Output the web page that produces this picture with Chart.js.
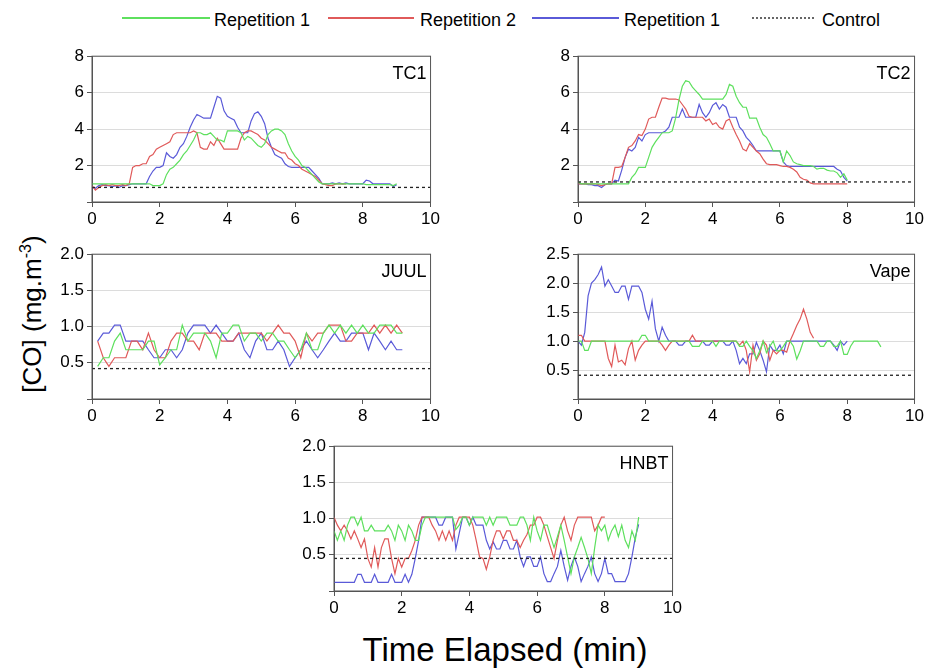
<!DOCTYPE html>
<html>
<head>
<meta charset="utf-8">
<script src="https://cdn.jsdelivr.net/npm/chart.js@4.4.1/dist/chart.umd.min.js"></script>
<style>
  body { margin: 0; width: 927px; height: 671px; position: relative; overflow: hidden; background: #fff;
         font-family: "Liberation Sans", Arial, sans-serif; color: #000; }
  canvas { position: absolute; }
  .leg-line { position: absolute; top: 17px; height: 2px; }
  .leg-dot { position: absolute; top: 17px; height: 0; border-top: 2px dotted #666; }
  .leg-text { position: absolute; top: 9px; font-size: 18px; line-height: 22px; }
  #ytitle { position: absolute; left: 32px; top: 314px; font-size: 26px; white-space: nowrap;
            transform: translate(-50%, -50%) rotate(-90deg); }
  #xtitle { position: absolute; left: 505px; top: 650px; font-size: 33px; white-space: nowrap;
            transform: translate(-50%, -50%); }
</style>
</head>
<body>

<div class="leg-line" style="left:122px;width:88px;background:#5ee05e"></div>
<div class="leg-text" style="left:214px">Repetition 1</div>
<div class="leg-line" style="left:328px;width:86px;background:#e05a5a"></div>
<div class="leg-text" style="left:420px">Repetition 2</div>
<div class="leg-line" style="left:532px;width:87px;background:#5a5ad8"></div>
<div class="leg-text" style="left:624px">Repetition 1</div>
<div class="leg-dot" style="left:752px;width:62px"></div>
<div class="leg-text" style="left:822px">Control</div>

<div id="ytitle">[CO] (mg.m<sup style="font-size:16px">-3</sup>)</div>
<div id="xtitle">Time Elapsed (min)</div>

<canvas id="c0"></canvas>
<canvas id="c1"></canvas>
<canvas id="c2"></canvas>
<canvas id="c3"></canvas>
<canvas id="c4"></canvas>

<script>
// panel names and control levels
const panelNames = ['TC1', 'TC2', 'JUUL', 'Vape', 'HNBT'];
const controlLevels = [0.8, 1.1, 0.42, 0.41, 0.45];

// sampling grids (min)
const tcStep = 0.1;
const juulStart = 1 / 6, juulStep = 1 / 6;
const noisyStep = 0.1;

// TC1 (0 - 9 min, every 0.1 min)
const tc1Rep1 = [1.0,1.0,1.0,1.0,1.0,1.0,1.0,1.0,1.0,1.0,1.0,1.0,1.0,1.0,1.0,1.0,1.0,1.0,
  0.9,0.9,0.9,1.0,1.5,1.8,1.9,2.1,2.3,2.6,2.8,3.1,3.4,
  3.8,3.8,3.7,3.7,3.8,3.6,3.4,3.4,3.3,3.9,
  3.9,3.9,3.9,3.8,3.4,3.6,3.5,3.3,3.1,3.0,
  3.2,3.7,3.9,4.0,4.0,3.9,3.7,3.2,2.8,2.5,
  2.3,2.0,1.9,1.7,1.5,1.3,1.1,1.0,1.0,1.0,
  1.0,1.0,1.0,1.0,1.0,1.0,1.0,1.0,1.0,1.0,
  0.95,0.95,0.95,0.95,0.95,0.95,0.95,0.95,0.9,1.0];
const tc1Rep2 = [0.9,0.65,0.8,0.9,0.95,0.9,0.95,0.9,0.9,0.95,0.9,1.0,
  1.9,2.0,2.0,2.1,2.1,2.5,2.6,2.9,3.0,
  3.1,3.2,3.3,3.7,3.8,3.8,3.8,3.8,3.8,3.9,
  3.8,3.0,2.9,2.9,3.3,3.1,3.5,3.2,2.9,2.9,
  2.9,2.9,2.9,3.5,3.8,3.9,3.9,3.8,3.7,3.5,
  3.4,3.2,3.0,2.9,2.8,2.7,2.7,2.4,2.3,2.1,
  2.0,1.8,1.7,1.6,1.5,1.4,1.2,1.0,0.95,0.9,
  0.9,1.0,1.0,1.0,1.0];
const tc1Rep3 = [0.8,0.75,0.9,0.95,0.9,0.9,0.85,0.9,0.8,0.9,0.9,
  0.95,1.0,1.0,1.0,1.0,1.0,1.4,1.7,1.9,1.9,
  2.0,2.7,2.5,2.4,2.6,3.0,3.2,3.6,4.1,4.5,
  4.8,4.7,4.6,4.6,4.6,5.2,5.8,5.7,5.0,4.7,
  4.6,4.5,4.1,3.8,3.8,3.8,4.45,4.85,4.95,4.7,
  4.3,3.5,3.0,2.6,2.5,2.4,2.1,1.95,1.9,1.9,
  1.9,1.9,1.9,1.9,1.7,1.5,1.3,1.0,1.0,1.0,
  1.05,1.0,1.05,1.0,1.05,1.0,1.0,1.0,1.0,1.0,
  1.2,1.15,1.0,1.0,1.0,1.0,1.0,1.0,0.85,0.95];

// TC2 (0 - 8 min, every 0.1 min)
const tc2Rep1 = [1.1,1.0,1.0,1.0,1.0,1.0,1.0,1.0,1.0,1.0,1.0,1.0,1.0,1.0,1.0,1.0,
  1.35,1.55,1.9,1.9,1.9,
  2.45,3.0,3.3,3.55,3.8,3.8,3.8,3.9,4.6,5.6,
  6.35,6.65,6.6,6.3,6.1,5.9,5.65,5.65,5.65,5.65,
  5.65,5.65,5.65,5.9,6.45,6.35,5.8,5.45,5.2,5.2,
  4.6,4.6,4.6,4.1,3.7,3.55,3.2,2.8,2.8,2.8,
  2.2,2.8,2.55,2.2,2.1,2.05,2.0,2.0,2.0,1.95,
  1.8,1.85,1.85,1.75,1.7,1.7,1.6,1.35,1.55,1.2];
const tc2Rep2 = [1.0,1.0,1.0,1.0,1.0,1.0,0.95,0.9,0.95,1.0,1.0,
  1.9,1.9,1.95,2.45,3.0,3.1,3.35,3.7,3.65,4.0,
  4.55,4.65,4.65,5.2,5.7,5.7,5.65,5.65,5.65,5.6,
  5.35,5.1,4.7,4.65,4.65,4.65,4.65,4.45,4.55,4.25,
  4.35,4.1,4.0,4.45,4.55,4.1,3.7,3.35,2.9,2.8,
  3.2,3.0,2.8,2.65,2.35,2.1,2.05,2.05,2.05,2.0,
  1.95,1.95,1.9,1.8,1.65,1.35,1.25,1.2,1.05,1.0,
  1.0,1.0,1.0,1.0,1.0,1.0,1.0,1.0,1.0,1.0];
const tc2Rep3 = [1.0,1.0,1.0,0.95,0.95,0.9,0.9,0.8,0.95,1.0,1.0,
  1.2,1.15,1.75,2.45,2.9,2.8,3.0,3.55,3.35,3.7,
  3.8,3.8,3.8,3.8,3.8,3.9,4.1,4.65,4.65,4.65,
  5.1,4.65,4.65,4.65,4.65,5.35,4.9,4.65,4.9,5.3,
  5.45,5.1,5.35,5.2,4.65,4.65,4.65,4.1,3.9,3.55,
  3.35,3.1,2.8,2.8,2.8,2.8,2.8,2.8,2.8,2.8,
  2.2,2.0,1.95,1.95,1.95,1.95,1.95,1.95,1.95,1.95,
  1.95,1.95,1.95,1.95,1.95,1.95,1.8,1.7,1.35,1.15];

// JUUL (every 10 s, from 0.17 to 9.17 min)
const juulRep1 = [0.45,0.57,0.57,0.8,0.91,0.68,0.68,0.68,0.68,0.8,0.8,0.47,0.57,0.68,0.68,1.02,0.8,0.91,0.91,0.91,
  0.8,0.57,0.91,0.91,1.02,1.02,0.8,0.91,0.91,0.8,0.91,0.91,0.8,0.8,0.68,0.57,0.68,0.91,0.68,0.68,
  0.91,1.02,0.91,1.02,0.91,1.02,0.91,1.02,0.91,0.91,1.02,1.02,1.02,0.91,0.91];
const juulRep2 = [0.8,0.57,0.45,0.57,0.57,0.57,0.8,0.8,0.68,0.91,0.68,0.57,0.57,0.8,0.91,0.91,0.8,0.8,0.68,0.91,
  0.91,0.91,0.8,0.8,0.8,0.91,0.91,0.91,0.91,0.91,0.8,0.91,1.02,0.91,0.91,0.8,0.57,0.91,0.8,0.91,
  0.91,1.02,1.02,1.02,0.8,0.8,0.91,0.91,0.91,1.02,0.91,1.02,0.91,1.02,0.91];
const juulRep3 = [0.8,0.91,0.91,1.02,1.02,0.8,0.8,0.8,0.8,0.68,0.57,0.57,0.68,0.68,0.57,0.68,0.91,1.02,1.02,1.02,
  0.91,1.02,0.91,0.8,0.8,0.91,0.68,0.57,0.8,0.91,0.68,0.68,0.8,0.68,0.45,0.57,0.68,0.8,0.68,0.57,
  0.68,0.8,0.91,0.8,0.8,0.91,0.91,0.91,0.68,0.91,0.8,0.68,0.8,0.68,0.68];

// Vape (every 0.1 min)
const vapeRep1 = [1.0,1.0,0.84,0.84,1.0,1.0,1.0,1.0,1.0,1.0,1.0,1.0,1.0,1.0,1.0,1.0,1.0,1.0,1.0,
  1.1,1.1,1.0,1.0,1.0,1.0,1.0,1.0,1.0,1.0,1.0,1.0,1.0,1.0,1.0,
  0.91,0.91,0.91,1.0,1.0,1.0,1.0,0.91,1.0,1.0,1.0,1.0,1.0,1.0,
  0.91,0.91,1.0,0.91,0.83,0.7,0.83,1.0,0.8,0.91,1.0,0.83,0.83,0.91,1.0,1.0,0.91,0.69,0.83,1.0,
  1.0,1.0,1.0,1.0,0.91,0.91,1.0,1.0,0.91,0.91,1.0,0.77,0.77,0.91,1.0,
  1.0,1.0,1.0,1.0,1.0,1.0,1.0,0.9];
const vapeRep2 = [1.1,1.1,1.0,1.0,1.0,1.0,1.0,1.0,1.0,
  0.7,0.56,0.93,0.64,0.67,0.59,0.87,1.0,0.67,0.84,0.93,
  1.0,1.0,1.0,1.0,1.0,0.93,0.84,0.93,1.0,1.0,1.0,1.0,1.0,1.0,1.1,
  1.0,1.0,1.0,1.0,1.0,1.0,1.0,1.0,1.0,1.0,1.0,1.0,1.0,
  0.93,1.0,0.84,0.47,0.93,0.67,0.78,1.0,0.93,0.67,0.84,0.78,0.84,0.84,0.81,1.0,
  1.13,1.27,1.38,1.55,1.38,1.15,1.05];
const vapeRep3 = [1.0,0.93,1.15,1.78,2.0,2.06,2.15,2.28,1.95,2.06,
  1.95,1.84,1.84,1.95,1.95,1.72,1.95,1.95,1.95,1.84,
  1.55,1.38,1.69,1.21,1.0,1.24,1.1,1.0,1.0,1.0,
  0.93,0.93,1.0,1.0,1.0,1.0,1.0,1.0,0.93,0.93,1.0,1.0,1.0,1.0,0.93,0.93,1.0,
  0.84,0.61,0.7,0.61,0.78,0.78,0.98,0.84,0.67,0.47,0.93,0.84,0.84,0.93,0.78,1.0,
  1.0,1.0,1.0,1.0,1.0,1.0,1.0,1.0,1.0,1.0,1.0,1.0,1.0,
  0.93,0.84,1.0,0.93,1.0];

// HNBT (every 0.1 min)
const hnbtRep1 = [0.83,0.7,0.83,0.7,0.91,1.02,1.02,0.91,1.02,0.83,0.83,0.91,0.83,0.83,0.83,0.83,0.91,0.83,0.7,0.91,
  0.83,0.7,0.91,0.83,0.7,0.7,0.91,
  1.02,1.02,1.02,1.02,1.02,1.02,1.02,1.02,1.02,
  0.85,0.91,1.02,1.02,0.91,1.02,1.02,1.02,1.02,0.91,1.02,0.91,1.02,1.02,1.02,1.02,0.91,0.91,0.91,
  1.02,1.02,0.91,0.7,1.02,0.83,0.7,0.91,0.91,0.75,0.6,0.75,0.91,0.7,0.47,0.24,0.47,0.6,0.74,0.6,
  0.45,0.24,0.6,0.91,0.83,0.91,0.7,0.83,0.91,0.75,0.91,0.7,0.6,0.83,0.7,1.02];
const hnbtRep2 = [1.02,0.91,0.83,0.91,0.83,0.72,0.83,0.72,0.6,0.72,0.45,0.33,0.6,0.33,0.6,0.72,0.72,0.45,0.24,0.45,
  0.33,0.45,0.45,0.56,0.7,0.91,1.02,1.02,1.02,0.91,0.83,0.7,0.83,0.7,0.83,0.7,0.91,1.02,1.02,1.02,
  1.02,0.91,0.7,0.47,0.45,0.3,0.47,0.7,0.83,0.83,0.72,0.83,0.83,0.7,0.7,0.6,0.7,0.78,0.91,0.91,
  1.02,1.02,0.91,0.75,0.6,0.45,0.7,0.91,1.02,0.83,0.7,0.91,1.02,1.02,1.02,1.02,1.02,0.83,0.91,1.02,1.02];
const hnbtRep3 = [0.12,0.12,0.12,0.12,0.12,0.12,0.12,
  0.23,0.23,0.12,0.12,0.12,0.23,0.12,0.12,0.12,0.12,0.23,0.12,0.12,0.12,0.23,0.12,0.23,0.45,0.7,1.02,
  1.02,1.02,1.02,1.02,
  0.91,0.91,1.02,1.02,1.02,0.58,0.8,1.02,1.02,0.91,1.02,0.91,0.91,0.91,0.7,0.58,0.68,0.58,0.58,0.7,
  0.7,0.58,0.58,0.7,0.47,0.34,0.47,0.47,0.34,0.34,0.47,0.24,0.13,0.13,0.24,0.34,0.56,0.34,0.15,0.34,
  0.47,0.34,0.13,0.24,0.34,0.47,0.24,0.13,0.24,0.45,0.24,0.24,0.13,0.13,0.13,0.13,0.24,0.47,0.74,0.92];

// panel plot areas in page pixels: left, top, right, bottom
const plotRects = [
  [92, 55, 432, 202],
  [578, 55, 916, 202],
  [92, 253, 432, 399],
  [578, 253, 916, 399],
  [334, 445, 674, 591]
];
const yMax = [8, 8, 2, 2.5, 2];
const yStep = [2, 2, 0.5, 0.5, 0.5];

const panelSeries = [
  [[tc1Rep1, 0, tcStep], [tc1Rep2, 0, tcStep], [tc1Rep3, 0, tcStep]],
  [[tc2Rep1, 0, tcStep], [tc2Rep2, 0, tcStep], [tc2Rep3, 0, tcStep]],
  [[juulRep1, juulStart, juulStep], [juulRep2, juulStart, juulStep], [juulRep3, juulStart, juulStep]],
  [[vapeRep1, 0, noisyStep], [vapeRep2, 0, noisyStep], [vapeRep3, 0, noisyStep]],
  [[hnbtRep1, 0, noisyStep], [hnbtRep2, 0, noisyStep], [hnbtRep3, 0, noisyStep]]
];

const seriesColors = ['#5ee05e', '#e05a5a', '#5a5ad8'];
const axisColor = '#555';
const tickFont = { family: 'Liberation Sans', size: 17 };

const YW = 45, XH = 28, PT = 12, PR = 10;

const framePlugin = {
  id: 'frame',
  afterDraw(chart) {
    const a = chart.chartArea, ctx = chart.ctx;
    ctx.save();
    ctx.strokeStyle = axisColor;
    ctx.lineWidth = 1;
    ctx.strokeRect(a.left, a.top, a.right - a.left, a.bottom - a.top);
    ctx.fillStyle = '#000';
    ctx.font = '18px "Liberation Sans"';
    ctx.textAlign = 'right';
    ctx.textBaseline = 'top';
    ctx.fillText(chart.options.plugins.frame.label, a.right - 4, a.top + 9);
    ctx.restore();
  }
};

function toPoints(values, start, step) {
  return values.map((v, i) => ({ x: start + i * step, y: v }));
}

panelNames.forEach((name, p) => {
  const [l, t, r, b] = plotRects[p];
  const cv = document.getElementById('c' + p);
  const w = (r - l) + YW + PR, h = (b - t) + PT + XH;
  cv.style.left = (l - YW) + 'px';
  cv.style.top = (t - PT) + 'px';
  cv.width = w; cv.height = h;
  cv.style.width = w + 'px'; cv.style.height = h + 'px';

  const datasets = [{
    data: [{ x: 0, y: controlLevels[p] }, { x: 10, y: controlLevels[p] }],
    borderColor: '#222',
    borderWidth: 1.3,
    borderDash: [3, 3],
    pointRadius: 0
  }];
  panelSeries[p].forEach((s, k) => {
    datasets.push({
      data: toPoints(s[0], s[1], s[2]),
      borderColor: seriesColors[k],
      borderWidth: 1.2,
      pointRadius: 0,
      tension: 0
    });
  });

  new Chart(cv, {
    type: 'line',
    data: { datasets },
    options: {
      responsive: false,
      animation: false,
      layout: { padding: { top: PT, right: PR, left: 0, bottom: 0 } },
      plugins: { legend: { display: false }, tooltip: { enabled: false }, frame: { label: name } },
      scales: {
        x: {
          type: 'linear', min: 0, max: 10,
          ticks: { stepSize: 2, font: tickFont, color: '#000', padding: 2, maxRotation: 0 },
          grid: { drawOnChartArea: false, tickLength: 5, tickColor: axisColor },
          border: { color: axisColor },
          afterFit: s => { s.height = XH; }
        },
        y: {
          min: 0, max: yMax[p],
          ticks: {
            stepSize: yStep[p], font: tickFont, color: '#000', padding: 3,
            callback: v => v === 0 ? '' : (yStep[p] < 1 ? v.toFixed(1) : String(v))
          },
          grid: { color: '#dcdcdc', tickLength: 5, tickColor: axisColor },
          border: { color: axisColor },
          afterFit: s => { s.width = YW; }
        }
      }
    },
    plugins: [framePlugin]
  });
});
</script>
</body>
</html>
